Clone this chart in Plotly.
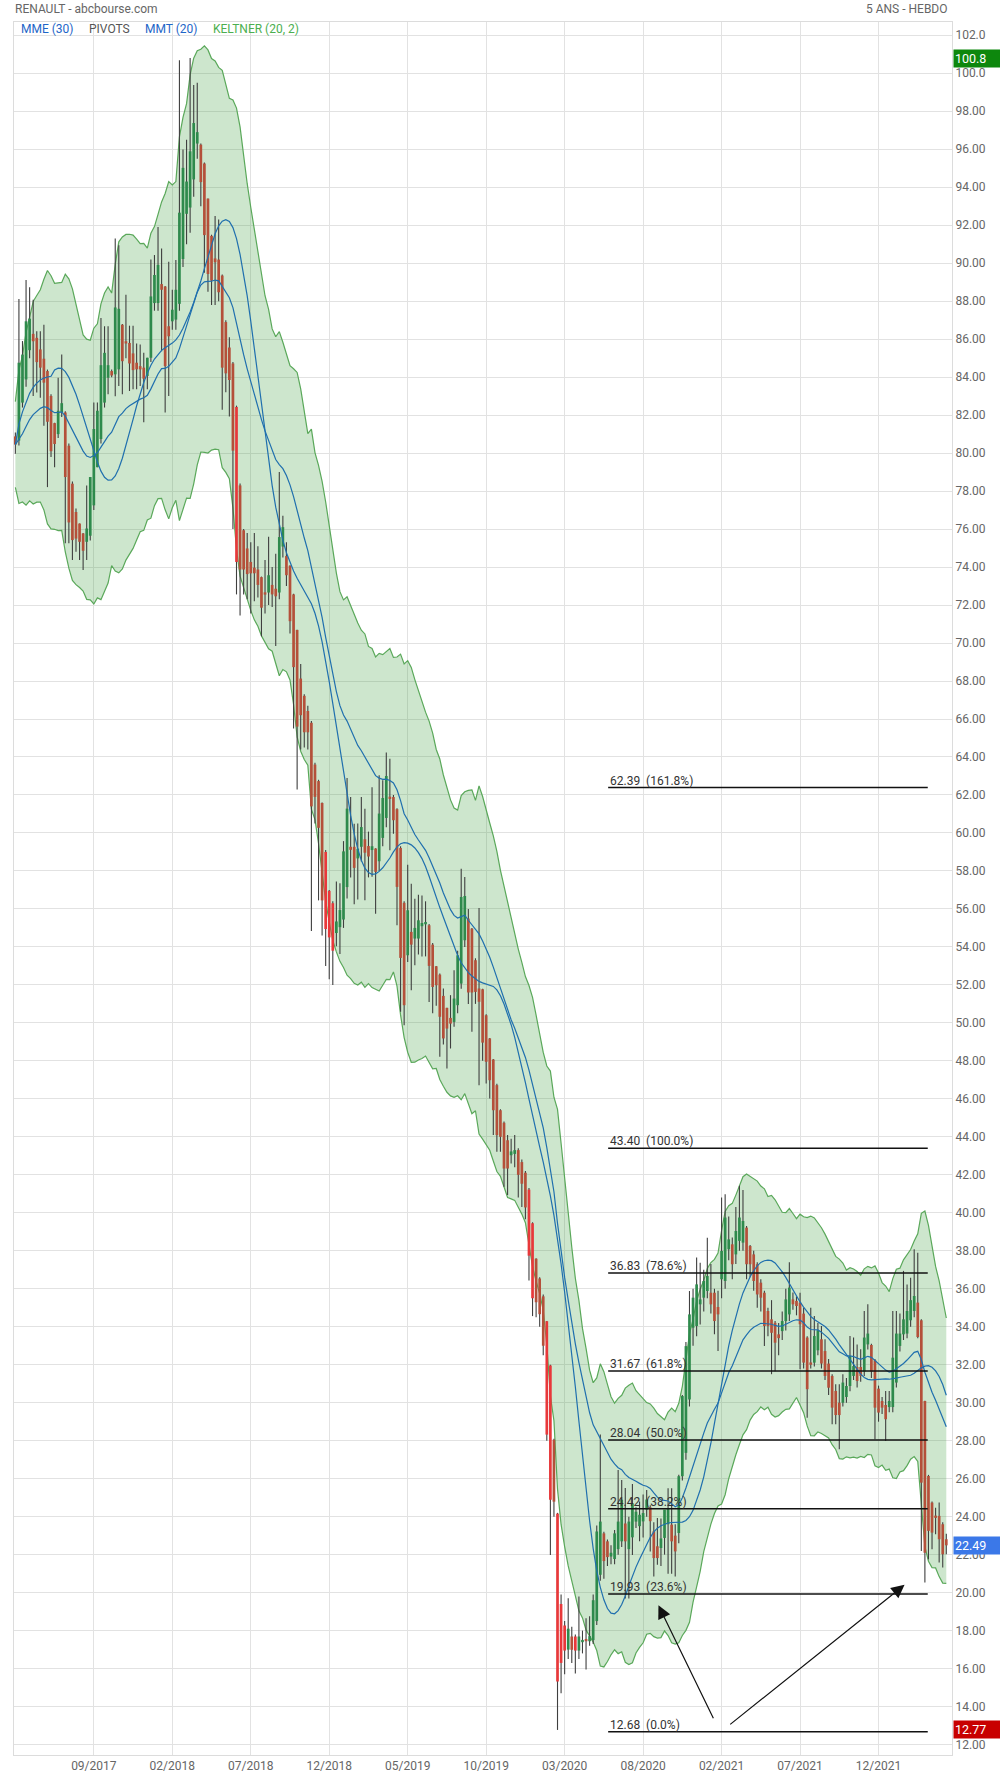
import numpy as np
import pandas as pd
import plotly.graph_objects as go

# ---------------- DATA (weekly candles) ----------------
opens = [
 80.88,80.66,82.66,83.88,85.42,86.28,86.07,85.46,84.97,84.32,
 83.01,81.58,81.00,82.14,82.14,80.39,78.39,76.90,76.29,75.77,
 75.33,75.65,77.25,79.26,80.74,82.66,83.97,84.32,84.15,84.41,
 86.76,85.89,85.80,85.25,84.76,84.58,84.50,84.06,85.02,87.90,
 87.90,88.90,88.77,86.68,86.94,87.03,87.86,90.22,92.60,92.93,
 94.41,96.30,96.24,95.25,93.40,91.44,90.25,90.19,89.35,86.90,
 85.56,84.72,82.43,78.30,75.94,74.98,74.27,73.97,73.87,73.47,
 72.66,72.66,73.06,72.86,72.66,75.08,74.58,74.07,72.56,70.69,
 68.13,67.22,66.42,65.80,63.60,62.73,61.58,59.00,56.95,56.30,
 54.73,55.04,55.44,57.15,59.27,59.27,58.66,59.27,59.67,59.31,
 59.10,59.18,58.51,59.74,60.79,61.89,61.89,61.25,59.21,56.32,
 53.56,54.79,54.44,54.44,55.09,55.20,55.14,54.12,52.98,52.54,
 51.42,50.79,50.26,50.05,50.93,52.07,54.35,55.49,54.96,53.30,
 51.81,51.77,50.40,49.18,48.07,46.72,45.40,44.74,43.82,43.03,
 43.10,43.30,42.67,42.11,41.22,39.45,37.58,36.54,35.60,34.29,
 31.96,28.05,24.16,19.40,18.27,17.00,17.69,17.69,16.95,17.40,
 17.55,17.44,17.50,18.50,20.94,23.12,22.70,21.90,21.77,22.29,
 22.70,23.64,22.29,22.91,23.74,23.50,23.75,24.37,24.49,23.23,
 22.44,22.35,22.88,23.60,23.58,23.00,23.14,26.13,27.36,30.17,
 33.95,34.04,35.18,35.53,35.88,35.79,35.79,35.04,36.50,36.41,
 38.08,38.34,37.81,38.52,38.43,39.22,38.25,37.81,37.29,36.32,
 35.79,34.83,34.39,34.21,33.60,33.77,34.30,34.65,35.44,35.36,
 35.27,34.69,33.43,32.10,32.11,32.76,33.34,32.72,32.06,31.41,
 30.62,30.00,30.00,30.30,30.88,31.41,31.88,31.88,31.64,33.07,
 33.04,32.23,30.74,30.09,29.88,29.77,29.77,31.06,32.99,33.60,
 33.64,34.34,34.83,35.27,34.34,30.09,26.14,24.74,24.04,24.04,
 23.60,22.81]
highs = [
 81.09,88.11,85.90,89.12,88.74,88.07,86.42,86.42,86.76,84.40,
 83.10,81.60,83.97,85.19,82.20,80.50,78.50,77.08,76.30,75.80,
 78.30,78.74,82.66,82.66,87.11,86.68,86.68,84.40,91.30,90.95,
 86.80,88.34,86.71,86.70,85.77,85.72,85.28,85.02,90.20,90.43,
 91.91,90.78,88.80,90.08,88.60,90.17,100.69,95.98,96.50,100.80,
 99.38,99.50,96.30,95.30,93.40,91.50,92.49,92.30,89.40,87.00,
 86.10,84.80,82.50,78.40,76.00,75.80,75.30,75.80,75.10,73.50,
 74.37,75.60,74.00,74.70,79.00,76.70,75.30,74.10,72.60,70.70,
 68.90,67.30,66.70,65.90,63.70,62.80,61.60,59.10,57.00,56.40,
 57.45,57.35,59.57,62.89,61.89,60.48,60.50,61.89,61.28,60.07,
 62.40,59.20,63.04,62.77,64.23,63.91,62.00,61.30,59.30,56.40,
 58.33,57.33,56.54,56.75,56.70,56.40,55.20,54.20,53.00,52.60,
 51.81,50.80,51.46,52.77,53.80,58.12,57.68,56.00,55.00,53.40,
 56.05,51.80,50.45,49.20,48.10,46.80,45.45,44.80,44.09,43.90,
 44.10,43.40,42.80,42.20,41.30,39.50,37.60,36.60,35.70,34.30,
 32.00,28.10,24.20,19.90,18.50,19.70,18.20,17.80,19.80,18.00,
 18.65,18.75,19.90,23.54,28.32,23.20,22.80,22.50,23.30,26.45,
 25.93,25.51,24.00,25.72,24.50,24.80,25.16,25.40,24.60,23.70,
 23.93,23.90,23.50,25.50,25.50,23.60,26.20,30.40,33.20,35.88,
 36.00,37.64,37.37,37.00,38.69,37.30,36.00,35.90,40.80,40.98,
 39.80,38.70,40.30,41.42,41.20,39.30,38.30,38.00,37.40,36.50,
 35.90,35.00,35.40,34.30,34.20,34.80,36.00,37.40,35.80,35.60,
 35.79,35.00,33.50,35.00,34.57,34.20,34.04,33.34,32.30,31.50,
 30.97,30.97,31.50,31.30,33.51,33.43,33.07,32.81,34.83,35.18,
 33.10,32.30,30.90,30.30,30.62,30.62,34.83,34.83,34.70,36.94,
 36.23,36.58,38.08,37.90,34.40,30.10,26.20,24.80,24.47,24.74,
 23.70,23.10]
lows = [
 79.96,80.40,82.40,83.50,85.00,83.01,83.19,82.92,81.44,78.21,
 79.80,79.26,80.80,81.90,75.25,75.25,74.37,74.81,74.37,73.85,
 74.37,75.40,77.00,79.26,80.50,82.40,83.10,84.00,83.00,83.54,
 83.10,85.00,83.27,83.36,83.36,83.54,81.62,83.36,84.80,87.50,
 87.50,85.37,82.14,83.01,86.50,86.50,87.50,89.80,91.00,91.60,
 93.50,95.50,93.00,89.50,88.50,87.80,87.80,88.00,82.28,83.20,
 81.93,76.00,72.56,71.45,72.56,72.30,71.55,72.20,72.40,70.35,
 71.55,72.00,71.90,69.84,72.30,74.50,73.00,70.50,65.50,62.29,
 64.40,64.50,64.40,54.84,60.50,56.45,54.60,53.00,52.30,52.00,
 54.03,53.63,55.00,56.55,57.66,56.25,56.50,58.50,56.45,57.66,
 57.70,55.75,58.00,59.30,60.30,59.09,59.96,55.14,50.58,49.88,
 53.20,51.72,53.04,53.60,53.50,53.50,51.10,50.50,50.90,48.21,
 48.86,47.60,48.65,49.80,50.50,51.80,54.00,51.00,49.53,51.00,
 46.72,48.00,46.81,46.02,44.09,43.21,43.21,41.37,40.93,42.60,
 42.40,40.80,40.30,39.66,36.43,34.56,34.50,34.00,32.50,28.00,
 21.98,24.00,12.77,14.70,15.70,16.50,16.30,15.74,16.50,16.80,
 15.95,17.20,17.30,18.30,20.63,20.73,21.40,21.50,21.50,22.00,
 22.40,19.69,19.69,21.98,23.40,22.70,22.90,24.00,22.17,20.85,
 21.47,21.40,22.00,21.00,21.00,20.85,22.60,25.90,27.00,29.80,
 33.00,33.50,34.12,34.80,35.50,34.70,33.60,32.72,35.50,36.00,
 37.50,36.50,37.30,38.00,38.00,36.50,36.60,35.90,35.00,34.80,
 32.98,33.50,31.50,31.66,32.50,33.30,33.80,34.30,34.90,34.60,
 31.76,31.80,29.21,31.80,31.90,32.50,31.80,31.20,30.40,28.86,
 28.86,27.55,29.80,30.00,30.60,31.20,30.80,31.10,31.40,32.80,
 31.30,28.07,29.00,29.40,27.98,29.50,29.50,30.80,32.70,33.30,
 33.40,34.00,34.50,33.40,22.19,20.53,21.75,22.28,23.07,21.58,
 21.32,22.02]
closes = [
 80.45,84.76,85.19,86.94,87.08,85.89,84.79,84.50,83.71,81.65,
 80.10,80.48,82.23,82.63,78.74,76.35,75.42,75.50,75.33,74.86,
 76.03,78.74,81.27,82.23,84.63,85.28,84.63,84.09,87.67,87.60,
 84.84,85.77,84.72,84.37,84.41,84.41,83.92,85.02,88.25,89.38,
 89.91,88.60,84.58,86.15,87.55,88.60,92.66,95.02,94.30,95.89,
 97.38,96.90,94.27,91.48,89.43,89.08,90.05,88.47,84.50,84.20,
 83.85,80.13,74.27,73.87,73.87,73.63,73.67,73.67,73.06,71.86,
 72.56,73.57,72.56,72.46,75.58,76.10,73.57,71.15,68.73,65.60,
 66.20,65.30,65.30,61.40,61.90,60.27,56.45,54.94,54.50,53.80,
 55.34,55.94,59.03,61.28,59.11,58.16,59.17,60.31,58.96,58.76,
 59.30,57.95,61.02,61.84,63.00,61.81,60.67,57.16,53.42,50.93,
 55.93,54.12,55.00,55.40,55.26,55.30,53.00,51.89,51.98,50.32,
 49.18,49.70,49.96,51.28,53.56,56.63,56.68,51.60,51.60,51.63,
 51.11,48.96,47.95,46.98,45.40,44.09,44.00,42.33,42.33,43.23,
 43.30,42.00,41.53,40.28,37.74,35.50,35.29,34.66,33.00,28.32,
 24.89,24.79,15.32,16.30,16.95,18.10,16.99,16.95,17.69,17.50,
 17.45,17.71,19.60,23.22,23.74,21.66,21.87,22.10,23.12,23.74,
 24.89,22.70,23.74,24.68,24.26,24.10,24.19,24.90,23.76,21.82,
 21.82,22.85,24.37,24.40,22.70,22.17,26.13,30.35,32.98,34.65,
 35.53,36.23,35.44,36.41,36.67,35.18,34.30,34.65,37.99,39.75,
 38.60,37.29,39.04,39.75,39.57,37.29,37.29,36.41,35.70,35.53,
 34.04,34.04,33.68,33.16,33.40,34.30,35.44,36.06,35.18,35.09,
 34.13,32.11,30.71,32.02,33.51,33.81,32.06,31.41,30.79,29.74,
 29.35,29.35,31.06,30.88,32.46,31.93,31.14,31.41,33.43,33.64,
 31.64,29.74,29.48,29.74,29.13,30.09,32.37,33.64,33.64,34.39,
 34.83,35.40,35.62,33.46,25.79,22.10,23.25,23.16,23.95,22.81,
 22.02,22.49]

# candles drawn in the brighter red (1-based week numbers)
bright_red_weeks = [63, 88, 89, 90, 145, 146, 150, 151, 153, 154, 155, 158]

week_dates = pd.date_range("2017-04-17", periods=len(closes), freq="7D")
tick_weeks = [22, 44, 66, 88, 110, 132, 154, 176, 198, 220, 242]
tick_labels = ["09/2017", "02/2018", "07/2018", "12/2018", "05/2019", "10/2019",
               "03/2020", "08/2020", "02/2021", "07/2021", "12/2021"]
price_ticks = list(range(12, 104, 2))

fib_levels = [62.39, 43.40, 36.83, 31.67, 28.04, 24.42, 19.93, 12.68]
fib_pcts = ["161.8%", "100.0%", "78.6%", "61.8%", "50.0%", "38.2%", "23.6%", "0.0%"]

last_price = 22.49
max_price = 100.8
min_price = 12.77

# ---------------- indicators ----------------
N = len(closes)
o = pd.Series(opens); h = pd.Series(highs); l = pd.Series(lows); c = pd.Series(closes)
mme30 = c.ewm(span=30, adjust=False).mean()
sma10 = c.rolling(10, min_periods=1).mean()
mmt20 = sma10.rolling(11, min_periods=1).mean()
prev_c = c.shift(1)
tr = pd.concat([h - l, (h - prev_c).abs(), (l - prev_c).abs()], axis=1).max(axis=1)
tr.iloc[0] = h.iloc[0] - l.iloc[0]
atr = tr.ewm(span=20, adjust=False).mean()
mid = c.ewm(span=20, adjust=False).mean()
k_up = mid + 2 * atr
k_lo = mid - 2 * atr

x = np.arange(N)

# ---------------- figure ----------------
fig = go.Figure()

GREEN_LINE = "#5aa85a"
fig.add_trace(go.Scatter(x=x, y=k_lo, mode="lines", line=dict(color=GREEN_LINE, width=1.2),
                         hoverinfo="skip", showlegend=False))
fig.add_trace(go.Scatter(x=x, y=k_up, mode="lines", line=dict(color=GREEN_LINE, width=1.2),
                         fill="tonexty", fillcolor="rgba(60,160,60,0.26)",
                         hoverinfo="skip", showlegend=False))

# wicks
wx, wy = [], []
for i in range(N):
    wx += [i, i, None]
    wy += [lows[i], highs[i], None]
fig.add_trace(go.Scatter(x=wx, y=wy, mode="lines", line=dict(color="#3f3f3f", width=1.1),
                         hoverinfo="skip", showlegend=False))

# bodies
groups = {"#2e8a4c": ([], []), "#b4503a": ([], []), "#e8383a": ([], [])}
for i in range(N):
    op, cl = opens[i], closes[i]
    if cl >= op:
        col = "#2e8a4c"
    elif (i + 1) in bright_red_weeks:
        col = "#e8383a"
    else:
        col = "#b4503a"
    lo_b, hi_b = min(op, cl), max(op, cl)
    if hi_b - lo_b < 0.12:
        m = (hi_b + lo_b) / 2
        lo_b, hi_b = m - 0.06, m + 0.06
    gx, gy = groups[col]
    gx += [i, i, None]
    gy += [lo_b, hi_b, None]
for col, (gx, gy) in groups.items():
    fig.add_trace(go.Scatter(x=gx, y=gy, mode="lines", line=dict(color=col, width=2.7),
                             hoverinfo="skip", showlegend=False))

BLUE = "#1f6fae"
fig.add_trace(go.Scatter(x=x, y=mme30, mode="lines", line=dict(color=BLUE, width=1.2),
                         hoverinfo="skip", showlegend=False))
fig.add_trace(go.Scatter(x=x, y=mmt20, mode="lines", line=dict(color=BLUE, width=1.2),
                         hoverinfo="skip", showlegend=False))

# plot area in pixels
L_PX, R_PX, T_PX, B_PX = 14, 952, 22, 1755
W, H = 1000, 1774
def px(xp):
    return (xp - L_PX) / (R_PX - L_PX)
def py(yp):
    return (B_PX - yp) / (B_PX - T_PX)

FONT = "Roboto"
FIB_X0, FIB_X1 = 166.2, 255.8
shapes = []
annotations = []
for lev, pct in zip(fib_levels, fib_pcts):
    shapes.append(dict(type="line", xref="x", yref="y", x0=FIB_X0, x1=FIB_X1, y0=lev, y1=lev,
                       line=dict(color="#111111", width=1.5)))
    annotations.append(dict(xref="x", yref="y", x=FIB_X0, y=lev, xanchor="left", yanchor="bottom",
                            text=f"{lev:.2f}\u00a0\u00a0({pct})", showarrow=False, yshift=-2,
                            font=dict(family=FONT, size=12, color="#333333")))

# arrows
annotations.append(dict(xref="x", yref="y", axref="x", ayref="y", x=180.3, y=19.33, ax=195.9, ay=13.31,
                        text="", showarrow=True, arrowhead=2, arrowsize=2.2, arrowwidth=1.2,
                        arrowcolor="#111111", standoff=0))
annotations.append(dict(xref="x", yref="y", axref="x", ayref="y", x=249.3, y=20.41, ax=200.0, ay=13.0,
                        text="", showarrow=True, arrowhead=2, arrowsize=2.2, arrowwidth=1.2,
                        arrowcolor="#111111", standoff=0))

# header
annotations.append(dict(xref="paper", yref="paper", x=px(13), y=py(8.5), xanchor="left", yanchor="middle",
                        text="RENAULT - abcbourse.com", showarrow=False,
                        font=dict(family=FONT, size=12, color="#666666")))
annotations.append(dict(xref="paper", yref="paper", x=px(950), y=py(8.5), xanchor="right", yanchor="middle",
                        text="5 ANS - HEBDO", showarrow=False,
                        font=dict(family=FONT, size=12, color="#666666")))

# legend
legend_items = [("MME (30)", "#1e66c8", 19.3), ("PIVOTS", "#555555", 86.7),
                ("MMT (20)", "#1e66c8", 142.7), ("KELTNER (20, 2)", "#4caf50", 210.7)]
for txt, col, xp in legend_items:
    annotations.append(dict(xref="paper", yref="paper", x=px(xp), y=py(29), xanchor="left", yanchor="middle",
                            text=txt, showarrow=False, font=dict(family=FONT, size=12, color=col)))

# price boxes
for val, bg, txt in [(max_price, "#0d870d", "100.8"), (last_price, "#3b78e8", "22.49"),
                     (min_price, "#c80000", "12.77")]:
    annotations.append(dict(xref="paper", yref="y", x=px(953), y=val, xanchor="left", yanchor="middle",
                            text=txt, showarrow=False, bgcolor=bg, width=44, align="left",
                            borderpad=1, font=dict(family=FONT, size=12.5, color="white")))

def fmt(v):
    return f"{v:.1f}" if v >= 100 else f"{v:.2f}"

fig.update_layout(
    template="none",
    width=W, height=H,
    margin=dict(l=L_PX, r=W - R_PX, t=T_PX, b=H - B_PX, autoexpand=False),
    paper_bgcolor="white", plot_bgcolor="white",
    showlegend=False,
    shapes=shapes, annotations=annotations,
    xaxis=dict(range=[-0.38, 262.6], tickmode="array", tickvals=tick_weeks, ticktext=tick_labels,
               showgrid=True, gridcolor="#e2e2e2", gridwidth=1, zeroline=False, automargin=False,
               showline=True, linecolor="#dcdcdc", mirror=True, ticks="",
               tickfont=dict(family=FONT, size=12, color="#666666")),
    yaxis=dict(range=[11.45, 102.7], side="right", tickmode="array", tickvals=price_ticks,
               ticktext=[fmt(v) for v in price_ticks], automargin=False,
               showgrid=True, gridcolor="#e2e2e2", gridwidth=1, zeroline=False,
               showline=True, linecolor="#dcdcdc", mirror=True, ticks="",
               tickfont=dict(family=FONT, size=12, color="#666666")),
)

fig.write_html("out.html", config={"displayModeBar": False},
               post_script="document.body.style.margin='0px';")
